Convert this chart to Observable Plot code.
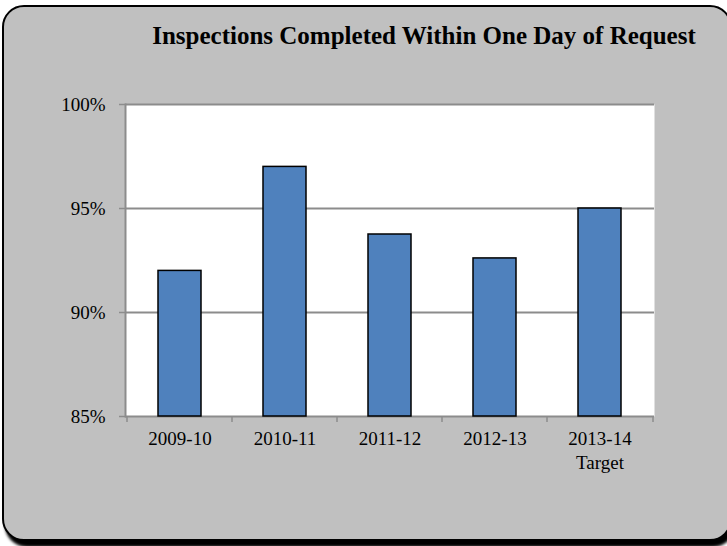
<!DOCTYPE html>
<html>
<head>
<meta charset="utf-8">
<script src="https://cdn.jsdelivr.net/npm/d3@7"></script>
<script src="https://cdn.jsdelivr.net/npm/@observablehq/plot@0.6"></script>
<style>
  html, body { margin: 0; padding: 0; background: #ffffff; }
  #page { position: relative; width: 727px; height: 546px; overflow: hidden; font-family: "Liberation Serif", "Times New Roman", serif; }
  #panel {
    position: absolute; left: 2px; top: 5px; width: 730px; height: 536px;
    box-sizing: border-box; background: #c0c0c0; border: 2px solid #000;
    border-radius: 22px; box-shadow: 3px 6px 3px #000;
  }
  #title {
    position: absolute; left: 120px; width: 608px; top: 23px; text-align: center;
    font-weight: bold; font-size: 25px; line-height: 25px; color: #000; white-space: nowrap;
  }
  #chart { position: absolute; left: 0; top: 80px; }
</style>
</head>
<body>
<div id="page">
  <div id="panel"></div>
  <div id="title">Inspections Completed Within One Day of Request</div>
  <div id="chart"></div>
</div>
<script>
// Fiscal years and share of inspections done within one day (percent)
const periods = ["2009-10", "2010-11", "2011-12", "2012-13", "2013-14"];
const rates = [92.0, 97.0, 93.75, 92.6, 95.0];
const periodLabels = ["2009-10", "2010-11", "2011-12", "2012-13", "2013-14\nTarget"];
const yTicks = [85, 90, 95, 100];

const rows = periods.map((p, i) => ({period: p, rate: rates[i], label: periodLabels[i]}));

const gridColor = "#8c8c8c";
const step = 106; // band step in px, used to place ticks on band edges

const chart = Plot.plot({
  width: 727,
  height: 400,
  marginTop: 24,
  marginBottom: 64,
  marginLeft: 125,
  marginRight: 73,
  style: {background: "transparent", fontFamily: "'Liberation Serif', 'Times New Roman', serif", fontSize: "19px", color: "#000"},
  x: {domain: periods, paddingInner: 0.59, paddingOuter: 0.295, axis: null},
  y: {domain: [85, 100], axis: null},
  marks: [
    Plot.frame({fill: "white", stroke: null}),
    Plot.ruleY(yTicks, {stroke: gridColor, strokeWidth: 2}),
    Plot.frame({anchor: "left", stroke: gridColor, strokeWidth: 2}),
    Plot.axisY({ticks: yTicks, tickSize: 6, tickPadding: 14, stroke: gridColor, strokeWidth: 1.5, fill: "#000",
      tickFormat: d => d + "%", fontSize: 19, label: null}),
    // category boundary ticks under the baseline
    Plot.ruleX(periods, {x: d => d, y1: 85, y2: 85, insetBottom: -6, dx: -step / 2, stroke: gridColor, strokeWidth: 1.5}),
    Plot.ruleX(periods.slice(-1), {x: d => d, y1: 85, y2: 85, insetBottom: -6, dx: step / 2, stroke: gridColor, strokeWidth: 1.5}),
    Plot.barY(rows, {x: "period", y1: 85, y2: "rate", fill: "#4f81bd", stroke: "#000", strokeWidth: 1.5}),
    Plot.text(rows, {x: "period", y: 85, text: "label", dy: 12, lineAnchor: "top", lineHeight: 1.25, fontSize: 19, fill: "#000"})
  ]
});

document.getElementById("chart").appendChild(chart);
</script>
</body>
</html>
